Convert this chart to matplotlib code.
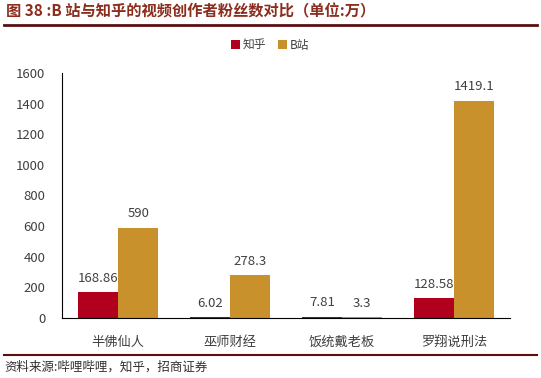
import matplotlib.pyplot as plt
import numpy as np

plt.rcParams['font.family'] = ['Noto Sans CJK SC', 'DejaVu Sans']

# Data
categories = ['半佛仙人', '巫师财经', '饭统戴老板', '罗翔说刑法']
zhihu = [168.86, 6.02, 7.81, 128.58]
bilibili = [590, 278.3, 3.3, 1419.1]
yticks = [0, 200, 400, 600, 800, 1000, 1200, 1400, 1600]

red = '#B0001E'
gold = '#C8912C'
txt = '#404040'

fig = plt.figure(figsize=(5.41, 3.78), dpi=100)
ax = fig.add_axes([62 / 541, 1 - 318 / 378, 448 / 541, 245 / 378])

x = np.arange(len(categories))
w = 0.36
b1 = ax.bar(x - w / 2, zhihu, w, color=red, label='知乎')
b2 = ax.bar(x + w / 2, bilibili, w, color=gold, label='B站')

# value labels
for bars, vals in ((b1, zhihu), (b2, bilibili)):
    for r, v in zip(bars, vals):
        ax.annotate(f'{v:g}', (r.get_x() + r.get_width() / 2, v),
                    xytext=(0, 10), textcoords='offset points',
                    ha='center', va='center', fontsize=9.5, color=txt)

ax.set_xlim(-0.5, 3.5)
ax.set_ylim(0, 1600)
ax.set_yticks(yticks)
ax.set_xticks(x)
ax.set_xticklabels(categories, fontsize=9.5, color=txt)
ax.tick_params(axis='y', labelsize=9.5, labelcolor=txt, length=0, pad=12)
ax.tick_params(axis='x', length=0, pad=13)
for s in ['top', 'right']:
    ax.spines[s].set_visible(False)
ax.spines['left'].set_color('black')
ax.spines['bottom'].set_color('black')

fig.legend(handles=[b1, b2], loc='center', bbox_to_anchor=(0.5, 1 - 45 / 378),
           ncol=2, frameon=False, fontsize=8.5, handlelength=0.7, handleheight=0.7,
           handletextpad=0.3, columnspacing=1.0, labelcolor=txt)

# title and source
fig.text(6 / 541, 1 - 11 / 378, '图 38 :B 站与知乎的视频创作者粉丝数对比（单位:万）',
         fontsize=11, color='#8B2E1E', fontweight='bold', va='center', ha='left')
fig.add_artist(plt.Line2D([4 / 541, 537 / 541], [1 - 25 / 378] * 2, color='#5A0F0F', lw=2))
fig.add_artist(plt.Line2D([4 / 541, 537 / 541], [1 - 355 / 378] * 2, color='#5A0F0F', lw=1.5))
fig.text(4 / 541, 1 - 367 / 378, '资料来源:哔哩哔哩，知乎，招商证券',
         fontsize=9, color='#303030', va='center', ha='left')

fig.savefig('out.png', dpi=100)
